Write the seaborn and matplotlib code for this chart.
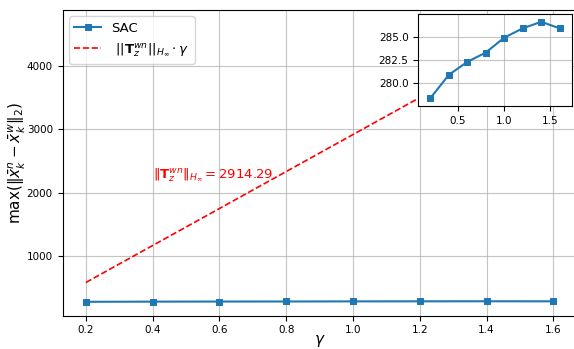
import numpy as np
import pandas as pd
import matplotlib
matplotlib.use('Agg')
import matplotlib.pyplot as plt
import seaborn as sns

# data
gamma = [0.2, 0.4, 0.6, 0.8, 1.0, 1.2, 1.4, 1.6]
sac = [278.4, 280.9, 282.3, 283.3, 284.9, 285.9, 286.6, 285.9]
h_inf = 2914.29
bound = [h_inf * g for g in gamma]

df = pd.DataFrame({'gamma': gamma, 'sac': sac, 'bound': bound})

fig = plt.figure(figsize=(5.74, 3.49), dpi=100)
ax = fig.add_axes([0.1089, 0.0954, 0.8958, 0.8768])

sns.lineplot(data=df, x='gamma', y='sac', marker='s', markersize=5,
             markeredgecolor='#1f77b4', color='#1f77b4', label='SAC', ax=ax)
sns.lineplot(data=df, x='gamma', y='bound', color='red', linestyle='--', linewidth=1.2,
             label=r' $||\mathbf{T}_z^{wn}||_{H_\infty} \cdot \gamma$', ax=ax)

ax.text(0.4, 2220, r'$\|\mathbf{T}_z^{wn}\|_{H_\infty} = 2914.29$', color='red', fontsize=9.5)
ax.set_xlabel(r'$\gamma$', fontsize=11)
ax.set_ylabel(r'$\max(\|\bar{x}_k^n - \bar{x}_k^w\|_2)$', fontsize=11)
ax.xaxis.set_label_coords(0.5, -0.058)
ax.yaxis.set_label_coords(-0.068, 0.5)
ax.tick_params(labelsize=7.5)
ax.grid(True, alpha=0.75)
ax.legend(loc='upper left', fontsize=9.5)

# inset zoom on SAC curve
axin = fig.add_axes([0.7288, 0.6963, 0.2672, 0.2636])
sns.lineplot(data=df, x='gamma', y='sac', marker='s', markersize=5,
             markeredgecolor='#1f77b4', color='#1f77b4', ax=axin)
axin.set_xlim(0.07, 1.73)
axin.set_ylim(277.56, 287.44)
axin.set_xlabel('')
axin.set_ylabel('')
axin.set_yticks([280.0, 282.5, 285.0])
axin.tick_params(labelsize=7.5)
axin.grid(True, alpha=0.75)

fig.savefig('out.png', dpi=100)
